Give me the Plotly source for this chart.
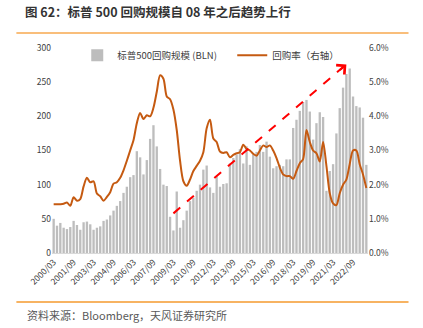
import plotly.graph_objects as go

# ---- data ----
quarters = [f"{y}/{m:02d}" for y in range(2000, 2024) for m in (3, 6, 9, 12)][:95]

buyback_bln = [50, 40, 44, 37, 35, 38, 47, 41, 34, 45,
               46, 42, 34, 37, 39, 47, 49, 55, 62, 69,
               76, 88, 97, 111, 114, 149, 140, 115, 136, 167,
               187, 156, 123, 100, 98, 53, 33, 90, 37, 48,
               62, 76, 81, 91, 100, 122, 128, 96, 88, 112,
               97, 101, 102, 131, 139, 144, 152, 131, 156, 129,
               144, 148, 158, 148, 163, 141, 124, 127, 129, 127,
               137, 137, 183, 195, 208, 221, 224, 207, 166, 190,
               206, 199, 91, 120, 130, 175, 212, 242, 262, 270,
               229, 215, 213, 198, 129]

buyback_rate = [1.43, 1.43, 1.43, 1.44, 1.48, 1.38, 1.63, 1.53, 1.58, 1.95,
                2.20, 2.07, 2.10, 1.74, 1.66, 1.53, 1.64, 1.78, 2.03, 2.07,
                2.20, 2.42, 2.70, 3.00, 3.30, 3.80, 4.10, 3.92, 4.03, 4.00,
                4.25, 4.72, 5.20, 5.10, 4.58, 4.50, 4.20, 3.60, 2.70, 2.10,
                1.97, 2.15, 2.40, 2.55, 2.70, 2.95, 3.65, 3.90, 3.35, 3.25,
                2.97, 2.93, 2.95, 2.80, 2.87, 2.92, 2.95, 3.17, 3.05, 3.00,
                2.90, 2.85, 3.00, 3.15, 3.10, 3.15, 3.00, 2.78, 2.50, 2.30,
                2.25, 2.25, 2.17, 2.40, 2.63, 2.75, 3.60, 3.25, 3.00, 2.92,
                2.68, 3.25, 2.55, 1.75, 1.45, 1.40, 1.75, 2.00, 2.15, 2.60,
                3.00, 3.00, 2.60, 2.30, 1.90]

tick_labels = quarters[::6]
left_ticks = [0, 50, 100, 150, 200, 250, 300]
right_ticks = [0, 1, 2, 3, 4, 5, 6]
right_tick_labels = ["0.0%", "1.0%", "2.0%", "3.0%", "4.0%", "5.0%", "6.0%"]

bar_name = "标普500回购规模 (BLN)"
line_name = "回购率（右轴）"
title_text = "图 62：标普 500 回购规模自 08 年之后趋势上行"
source_text = "资料来源：Bloomberg，天风证券研究所"

# trend arrow (category index, value on left axis)
arrow_start = (36, 58)
arrow_end = (88, 276)

FONT = "Noto Sans CJK SC, Noto Sans, sans-serif"

fig = go.Figure()
fig.add_trace(go.Bar(x=quarters, y=buyback_bln, name=bar_name,
                     marker=dict(color="#BDBDBD", line=dict(width=0)),
                     yaxis="y"))
fig.add_trace(go.Scatter(x=quarters, y=buyback_rate, name=line_name,
                         mode="lines", line=dict(color="#C55A11", width=2,
                                                 shape="spline", smoothing=0.8),
                         yaxis="y2"))

# dashed red trend line
fig.add_shape(type="line", xref="x", yref="y",
              x0=arrow_start[0], y0=arrow_start[1],
              x1=arrow_end[0] - 0.9, y1=arrow_end[1] - 3.5,
              line=dict(color="#FF0000", width=2, dash="dash"))
fig.add_annotation(x=arrow_end[0], y=arrow_end[1], xref="x", yref="y",
                   ax=-8, ay=7, showarrow=True, arrowhead=4, arrowsize=1.2,
                   arrowwidth=2, arrowcolor="#FF0000", text="")

# title, rules and source
fig.update_layout(
    title=dict(text=title_text, x=25 / 423, xanchor="left", xref="container",
               y=1 - 12.5 / 328, yanchor="middle", yref="container",
               font=dict(family=FONT, size=12.5, color="#333333", weight="bold")),
)
fig.add_shape(type="line", xref="paper", yref="paper",
              x0=(16 - 51.7) / 316.7, x1=(409 - 51.7) / 316.7,
              y0=(253.3 - 33.3) / 205, y1=(253.3 - 33.3) / 205,
              line=dict(color="#F7A94F", width=1.5))
fig.add_shape(type="line", xref="paper", yref="paper",
              x0=(16 - 51.7) / 316.7, x1=(409 - 51.7) / 316.7,
              y0=(253.3 - 302.3) / 205, y1=(253.3 - 302.3) / 205,
              line=dict(color="#F59A2E", width=1.5))
fig.add_annotation(text=source_text, xref="paper", yref="paper",
                   x=(25 - 51.7) / 316.7, y=(253.3 - 315.7) / 205,
                   xanchor="left", yanchor="middle", showarrow=False,
                   font=dict(family=FONT, size=11, color="#595959"))

fig.update_layout(
    width=423, height=328,
    margin=dict(l=51.7, r=54.7, t=48.3, b=74.7),
    paper_bgcolor="white", plot_bgcolor="white",
    font=dict(family=FONT, size=9, color="#404040"),
    bargap=0.3,
    showlegend=True,
    legend=dict(orientation="h", x=(77 - 51.7) / 316.7, xanchor="left",
                y=(253.3 - 41) / 205, yanchor="top",
                font=dict(family=FONT, size=9.5, color="#404040"),
                bgcolor="rgba(0,0,0,0)", itemwidth=30,
                entrywidth=110, entrywidthmode="pixels"),
    xaxis=dict(type="category", categoryorder="array", categoryarray=quarters,
               range=[-0.5, len(quarters) - 0.5],
               tickmode="array", tickvals=tick_labels, ticktext=tick_labels,
               tickangle=-45, tickfont=dict(size=8.5, color="#404040"),
               showgrid=False, showline=True, linecolor="#D9D9D9", linewidth=1,
               ticks="", zeroline=False),
    yaxis=dict(range=[0, 300], tickvals=left_ticks, showgrid=False,
               zeroline=False, showline=False, ticks="",
               tickfont=dict(size=8.5, color="#404040")),
    yaxis2=dict(range=[0, 6], tickmode="array", tickvals=right_ticks,
                ticktext=right_tick_labels, overlaying="y", side="right",
                showgrid=False, zeroline=False, showline=False, ticks="",
                tickfont=dict(size=8.5, color="#404040")),
)

fig.write_html("out.html")
